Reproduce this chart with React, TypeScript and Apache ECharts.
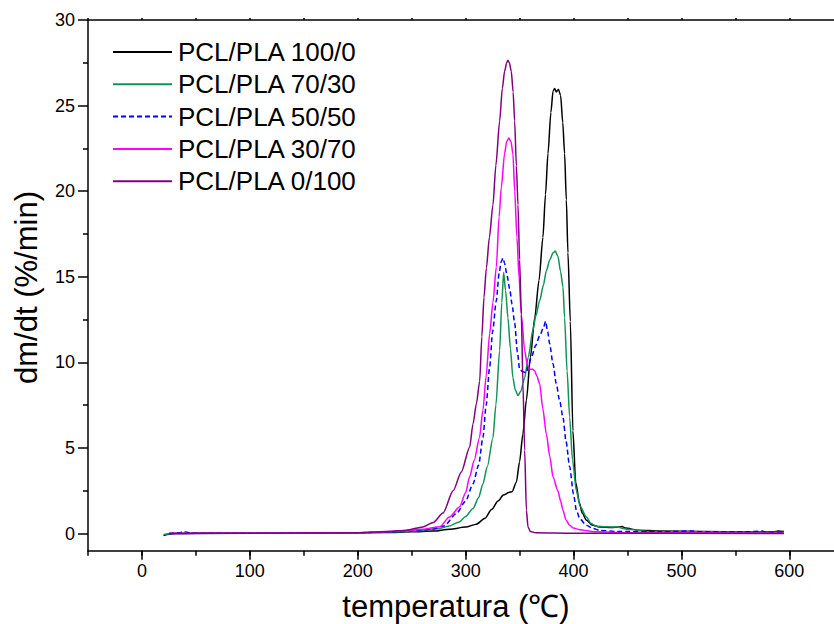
import React, { useEffect, useRef } from "react";
import * as echarts from "echarts";

// [temperature °C, dm/dt %/min]
const pcl100_0: number[][] = [
  [20, -0.12], [25, -0.04], [30, 0.0], [50, 0.02], [100, 0.02], [150, 0.03], [200, 0.05], [230, 0.07],
  [250, 0.1], [270, 0.15], [285, 0.25], [300, 0.38], [310, 0.55], [318, 0.9], [324, 1.4], [330, 1.9],
  [335, 2.25], [340, 2.4], [343, 2.45], [347, 3.0], [350, 4.2], [353, 5.8], [356.3, 7.8], [360, 10.3],
  [364, 12.6], [368, 14.8], [371.6, 17.3], [374, 19.8], [376.3, 22.2], [379, 24.6], [381, 25.85],
  [382.5, 26.0], [384, 25.8], [386, 25.95], [388, 25.6], [390, 24.0], [391.7, 22.2], [393.3, 19.5],
  [394.8, 16.4], [397, 12.4], [399.4, 6.0], [402, 3.0], [405.6, 1.75], [408, 1.2], [412, 0.78],
  [417, 0.5], [424, 0.39], [435, 0.35], [443, 0.38], [445, 0.42], [448, 0.32], [460, 0.2],
  [480, 0.15], [520, 0.12], [560, 0.1], [585, 0.1], [590, 0.15], [595, 0.12],
];

const pcl70_30: number[][] = [
  [20, -0.05], [30, 0.0], [100, 0.02], [200, 0.04], [240, 0.1], [260, 0.18], [276, 0.3], [285, 0.45],
  [294, 0.68], [300, 1.0], [306.8, 1.46], [312, 2.1], [316, 2.9], [320, 3.9], [325.3, 5.6], [328, 7.5],
  [331.5, 10.7], [333.5, 13.5], [335.2, 15.25], [337, 14.2], [339.2, 12.6], [341.5, 10.8], [343.8, 9.1],
  [346, 8.4], [348.5, 8.06], [351, 8.3], [354.7, 9.1], [358, 10.3], [362.4, 11.9], [365, 12.7],
  [368.6, 13.6], [372, 14.5], [374.8, 15.35], [378, 16.0], [381, 16.4], [383, 16.5], [385.5, 16.2],
  [388, 15.3], [390.2, 14.4], [391.7, 12.6], [394, 9.5], [396.4, 6.8], [399, 4.3], [402.6, 2.5],
  [406, 1.6], [411.9, 0.97], [416, 0.6], [421, 0.43], [430, 0.4], [440, 0.38], [450, 0.25],
  [470, 0.12], [520, 0.1], [595, 0.08],
];

const pcl50_50: number[][] = [
  [25, 0.0], [35, 0.05], [38, 0.12], [42, 0.08], [45, 0.03], [60, 0.02], [100, 0.02], [200, 0.05],
  [240, 0.12], [260, 0.22], [270, 0.27], [280, 0.45], [291.4, 1.17], [300, 1.9], [306.8, 2.9],
  [312, 4.0], [316, 5.6], [319, 7.5], [322.2, 9.7], [325, 11.8], [328.4, 13.6], [331, 15.2],
  [333, 15.9], [334.6, 16.1], [336, 15.8], [338, 15.2], [340.8, 14.3], [343, 13.4], [345.4, 12.3],
  [348, 10.6], [350, 9.6], [353, 9.45], [356.3, 9.4], [358, 9.8], [360.9, 10.3], [365, 11.0],
  [368.6, 11.56], [372, 12.0], [374.1, 12.4], [376, 11.8], [377.8, 11.1], [381, 9.9], [384, 8.75],
  [387, 7.8], [390.2, 6.8], [393, 5.4], [396.4, 3.9], [400, 2.3], [402.6, 1.36], [406, 0.85],
  [411.9, 0.48], [418, 0.3], [424, 0.19], [440, 0.12], [480, 0.1], [510, 0.15], [515, 0.1],
  [560, 0.1], [575, 0.15], [578, 0.08], [595, 0.08],
];

const pcl30_70: number[][] = [
  [25, 0.0], [100, 0.02], [200, 0.05], [240, 0.15], [260, 0.25], [276, 0.4], [285, 0.97], [294.4, 1.55],
  [300, 2.4], [303.6, 3.3], [308, 4.3], [312.8, 5.6], [316, 7.2], [319, 9.2], [322.2, 11.66],
  [325.3, 13.5], [328.4, 15.55], [331, 18.5], [333, 20.2], [336.1, 22.2], [338, 22.9], [340.1, 23.1],
  [342, 22.9], [343.8, 22.2], [345.5, 20.0], [347.5, 17.3], [349.5, 15.0], [351.6, 12.8], [354.7, 10.7],
  [357, 9.9], [359.3, 9.6], [362, 9.6], [364, 9.5], [366, 9.2], [368.6, 8.75], [371.5, 7.3],
  [374.8, 5.8], [378, 4.5], [381, 3.3], [385.5, 2.5], [388, 1.9], [390.2, 1.36], [393, 0.8],
  [396.4, 0.48], [400, 0.32], [405.6, 0.23], [420, 0.1], [450, 0.05], [595, 0.02],
];

const pcl0_100: number[][] = [
  [25, 0.0], [100, 0.02], [200, 0.05], [230, 0.12], [245, 0.2], [260.4, 0.39], [270, 0.65], [279, 1.2],
  [288.4, 2.5], [296, 3.6], [303.7, 5.05], [306.8, 6.4], [310, 7.6], [313, 8.9], [315, 11.5],
  [317, 13.8], [319.2, 15.5], [322, 17.3], [325.3, 19.2], [328, 21.5], [331.5, 24.1], [334, 26.0],
  [336.1, 27.0], [338, 27.5], [339.2, 27.65], [340.5, 27.5], [342.3, 27.0], [344, 25.8], [345.4, 24.1],
  [347, 21.5], [348.5, 19.2], [350, 16.0], [351.6, 12.8], [353.1, 8.75], [354.7, 4.86], [356.3, 1.36],
  [357.8, 0.39], [360, 0.12], [365, 0.05], [400, 0.02], [595, 0.0],
];

const seriesNames = ["PCL/PLA 100/0", "PCL/PLA 70/30", "PCL/PLA 50/50", "PCL/PLA 30/70", "PCL/PLA 0/100"];
const seriesData = [pcl100_0, pcl70_30, pcl50_50, pcl30_70, pcl0_100];
const seriesColors = ["#000000", "#0f9456", "#0000ff", "#ff00ff", "#800080"];

const xLabelValues = [0, 100, 200, 300, 400, 500, 600];
const xMinorValues = [-50, 0, 50, 100, 150, 200, 250, 300, 350, 400, 450, 500, 550, 600, 650];
const yLabelValues = [0, 5, 10, 15, 20, 25, 30];
const yMinorValues = [2.5, 7.5, 12.5, 17.5, 22.5, 27.5];

const xTitle = "temperatura (℃)";
const yTitle = "dm/dt (%/min)";

const FONT = "'Liberation Sans', Arial, Helvetica, sans-serif";

export default function App() {
  const ref = useRef<HTMLDivElement>(null);
  useEffect(() => {
    if (!ref.current) return;
    const chart = echarts.init(ref.current, undefined, { renderer: "svg" });
    const axisLine = { show: true, onZero: false, lineStyle: { color: "#000", width: 1.5 } };
    const noLine = { show: false, onZero: false };
    const tickStyle = { color: "#000", width: 1.5 };
    const grid = { left: 88, top: 20, width: 755.3, height: 530.7, outerBoundsMode: "none", containLabel: false };
    chart.setOption({
      animation: false,
      backgroundColor: "#fff",
      grid,
      legend: {
        orient: "vertical",
        left: 107,
        top: 34,
        itemWidth: 59,
        itemHeight: 14,
        itemGap: 6.3,
        data: seriesNames,
        itemStyle: { opacity: 0 },
        textStyle: { fontSize: 26, color: "#000", fontFamily: FONT, lineHeight: 26, padding: [0, 0, 0, 1] },
      },
      xAxis: [
        {
          type: "value",
          min: -50,
          max: 650,
          position: "bottom",
          axisLine,
          axisTick: { show: true, length: 9, customValues: xLabelValues, lineStyle: tickStyle },
          axisLabel: { customValues: xLabelValues, fontSize: 18, color: "#000", fontFamily: FONT, margin: 11 },
          splitLine: { show: false },
        },
        {
          type: "value",
          min: -50,
          max: 650,
          position: "bottom",
          axisLine: noLine,
          axisTick: { show: true, length: 5, customValues: xMinorValues, lineStyle: tickStyle },
          axisLabel: { show: false },
          splitLine: { show: false },
        },
        {
          type: "value",
          min: -50,
          max: 650,
          position: "top",
          axisLine,
          axisTick: { show: true, length: 2, customValues: xMinorValues, lineStyle: tickStyle },
          axisLabel: { show: false },
          splitLine: { show: false },
        },
      ],
      yAxis: [
        {
          type: "value",
          min: -1,
          max: 30,
          position: "left",
          axisLine,
          axisTick: { show: true, length: 10, customValues: yLabelValues, lineStyle: tickStyle },
          axisLabel: { customValues: yLabelValues, fontSize: 18, color: "#000", fontFamily: FONT, margin: 13 },
          splitLine: { show: false },
        },
        {
          type: "value",
          min: -1,
          max: 30,
          position: "left",
          axisLine: noLine,
          axisTick: { show: true, length: 5, customValues: yMinorValues, lineStyle: tickStyle },
          axisLabel: { show: false },
          splitLine: { show: false },
        },
      ],
      series: seriesData.map((d, i) => ({
        name: seriesNames[i],
        type: "line",
        xAxisIndex: 0,
        yAxisIndex: 0,
        data: d,
        symbol: "none",
        smooth: 0.25,
        smoothMonotone: "x",
        color: seriesColors[i],
        lineStyle: {
          color: seriesColors[i],
          width: 1.5,
          type: i === 2 ? [5, 3] : "solid",
        },
      })),
      graphic: [
        {
          type: "text",
          x: 456,
          y: 606,
          style: { text: xTitle, fontSize: 31, fontFamily: FONT, fill: "#000", textAlign: "center", textVerticalAlign: "middle" },
        },
        {
          type: "text",
          x: 26,
          y: 287.5,
          rotation: Math.PI / 2,
          style: { text: yTitle, fontSize: 31, fontFamily: FONT, fill: "#000", textAlign: "center", textVerticalAlign: "middle" },
        },
      ],
    });
    return () => chart.dispose();
  }, []);
  return <div ref={ref} style={{ position: "fixed", left: 0, top: 0, width: 834, height: 624 }} />;
}
